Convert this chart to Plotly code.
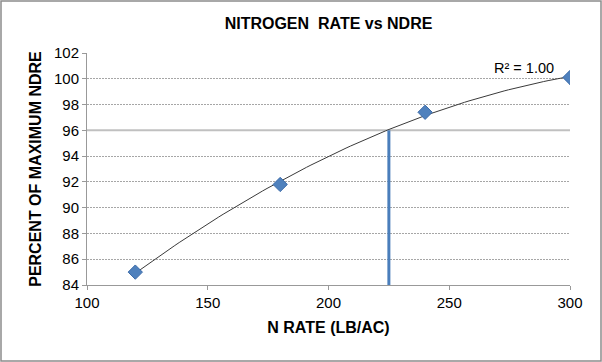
import numpy as np
import plotly.graph_objects as go

# ---- data ----
n_rate = [120, 180, 240, 300]
pct_max_ndre = [85.0, 91.8, 97.4, 100.1]
target_rate = [225, 225]
target_pct = [84, 96.0]
ref_level_x = [100, 300]
ref_level_y = [96, 96]
x_ticks = [100, 150, 200, 250, 300]
y_ticks = [84, 86, 88, 90, 92, 94, 96, 98, 100, 102]
title_text = "NITROGEN  RATE vs NDRE"
x_title = "N RATE (LB/AC)"
y_title = "PERCENT OF MAXIMUM NDRE"
r2_label = "R² = 1.00"

# polynomial (order 2) trendline fitted to the data, as the spreadsheet does
coef = np.polyfit(n_rate, pct_max_ndre, 2)
trend_x = np.linspace(min(n_rate), max(n_rate), 100)
trend_y = np.polyval(coef, trend_x)

FONT = "Liberation Sans, Arial, sans-serif"

fig = go.Figure()

fig.add_trace(go.Scatter(x=ref_level_x, y=ref_level_y, mode="lines",
                         line=dict(color="#C0C0C0", width=2),
                         hoverinfo="skip", showlegend=False))
fig.add_trace(go.Scatter(x=trend_x, y=trend_y, mode="lines",
                         line=dict(color="#3A3A3A", width=1),
                         hoverinfo="skip", showlegend=False))
fig.add_trace(go.Scatter(x=target_rate, y=target_pct, mode="lines",
                         line=dict(color="#4A7EBB", width=3),
                         showlegend=False))
fig.add_trace(go.Scatter(x=n_rate, y=pct_max_ndre, mode="markers",
                         marker=dict(symbol="diamond", size=11, color="#4F81BD",
                                     line=dict(color="#3A6AA8", width=1)),
                         showlegend=False))

L, R, T, B = 87, 32, 53, 77
W, H = 602, 362
pw, ph = W - L - R, H - T - B

fig.add_annotation(x=281, y=100.8, xref="x", yref="y", text=r2_label,
                   showarrow=False, font=dict(family=FONT, size=14.5, color="#000000"))

# outer chart border
fig.add_shape(type="rect", xref="paper", yref="paper",
              x0=(-L + 1) / pw, x1=(W - L - 1) / pw,
              y0=(-B + 1) / ph, y1=(H - B - 1) / ph,
              line=dict(color="#8C8C8C", width=1.5))

fig.update_layout(
    width=W, height=H,
    margin=dict(l=L, r=R, t=T, b=B),
    paper_bgcolor="white", plot_bgcolor="white",
    title=dict(text="<b>" + title_text + "</b>", x=0.5, xref="paper",
               y=1 - 23 / H, yanchor="middle",
               font=dict(family=FONT, size=16, color="#000000")),
    xaxis=dict(range=[100, 300], tickvals=x_ticks, showgrid=False,
               showline=True, linecolor="#999999", linewidth=1,
               ticks="outside", ticklen=4, tickcolor="#999999",
               tickfont=dict(family=FONT, size=15, color="#000000"),
               title=dict(text="<b>" + x_title + "</b>", standoff=11,
                          font=dict(family=FONT, size=16, color="#000000")),
               zeroline=False),
    yaxis=dict(range=[84, 102], tickvals=y_ticks, showgrid=True,
               gridcolor="#A6A6A6", griddash="2px,1px", gridwidth=1,
               showline=True, linecolor="#999999", linewidth=1,
               ticks="outside", ticklen=4, tickcolor="#999999",
               tickfont=dict(family=FONT, size=15, color="#000000"),
               title=dict(text="<b>" + y_title + "</b>", standoff=8,
                          font=dict(family=FONT, size=16, color="#000000")),
               zeroline=False),
)

fig.write_html("out.html", config={"displayModeBar": False},
               post_script="document.body.style.margin='0';document.body.style.overflow='hidden';")
